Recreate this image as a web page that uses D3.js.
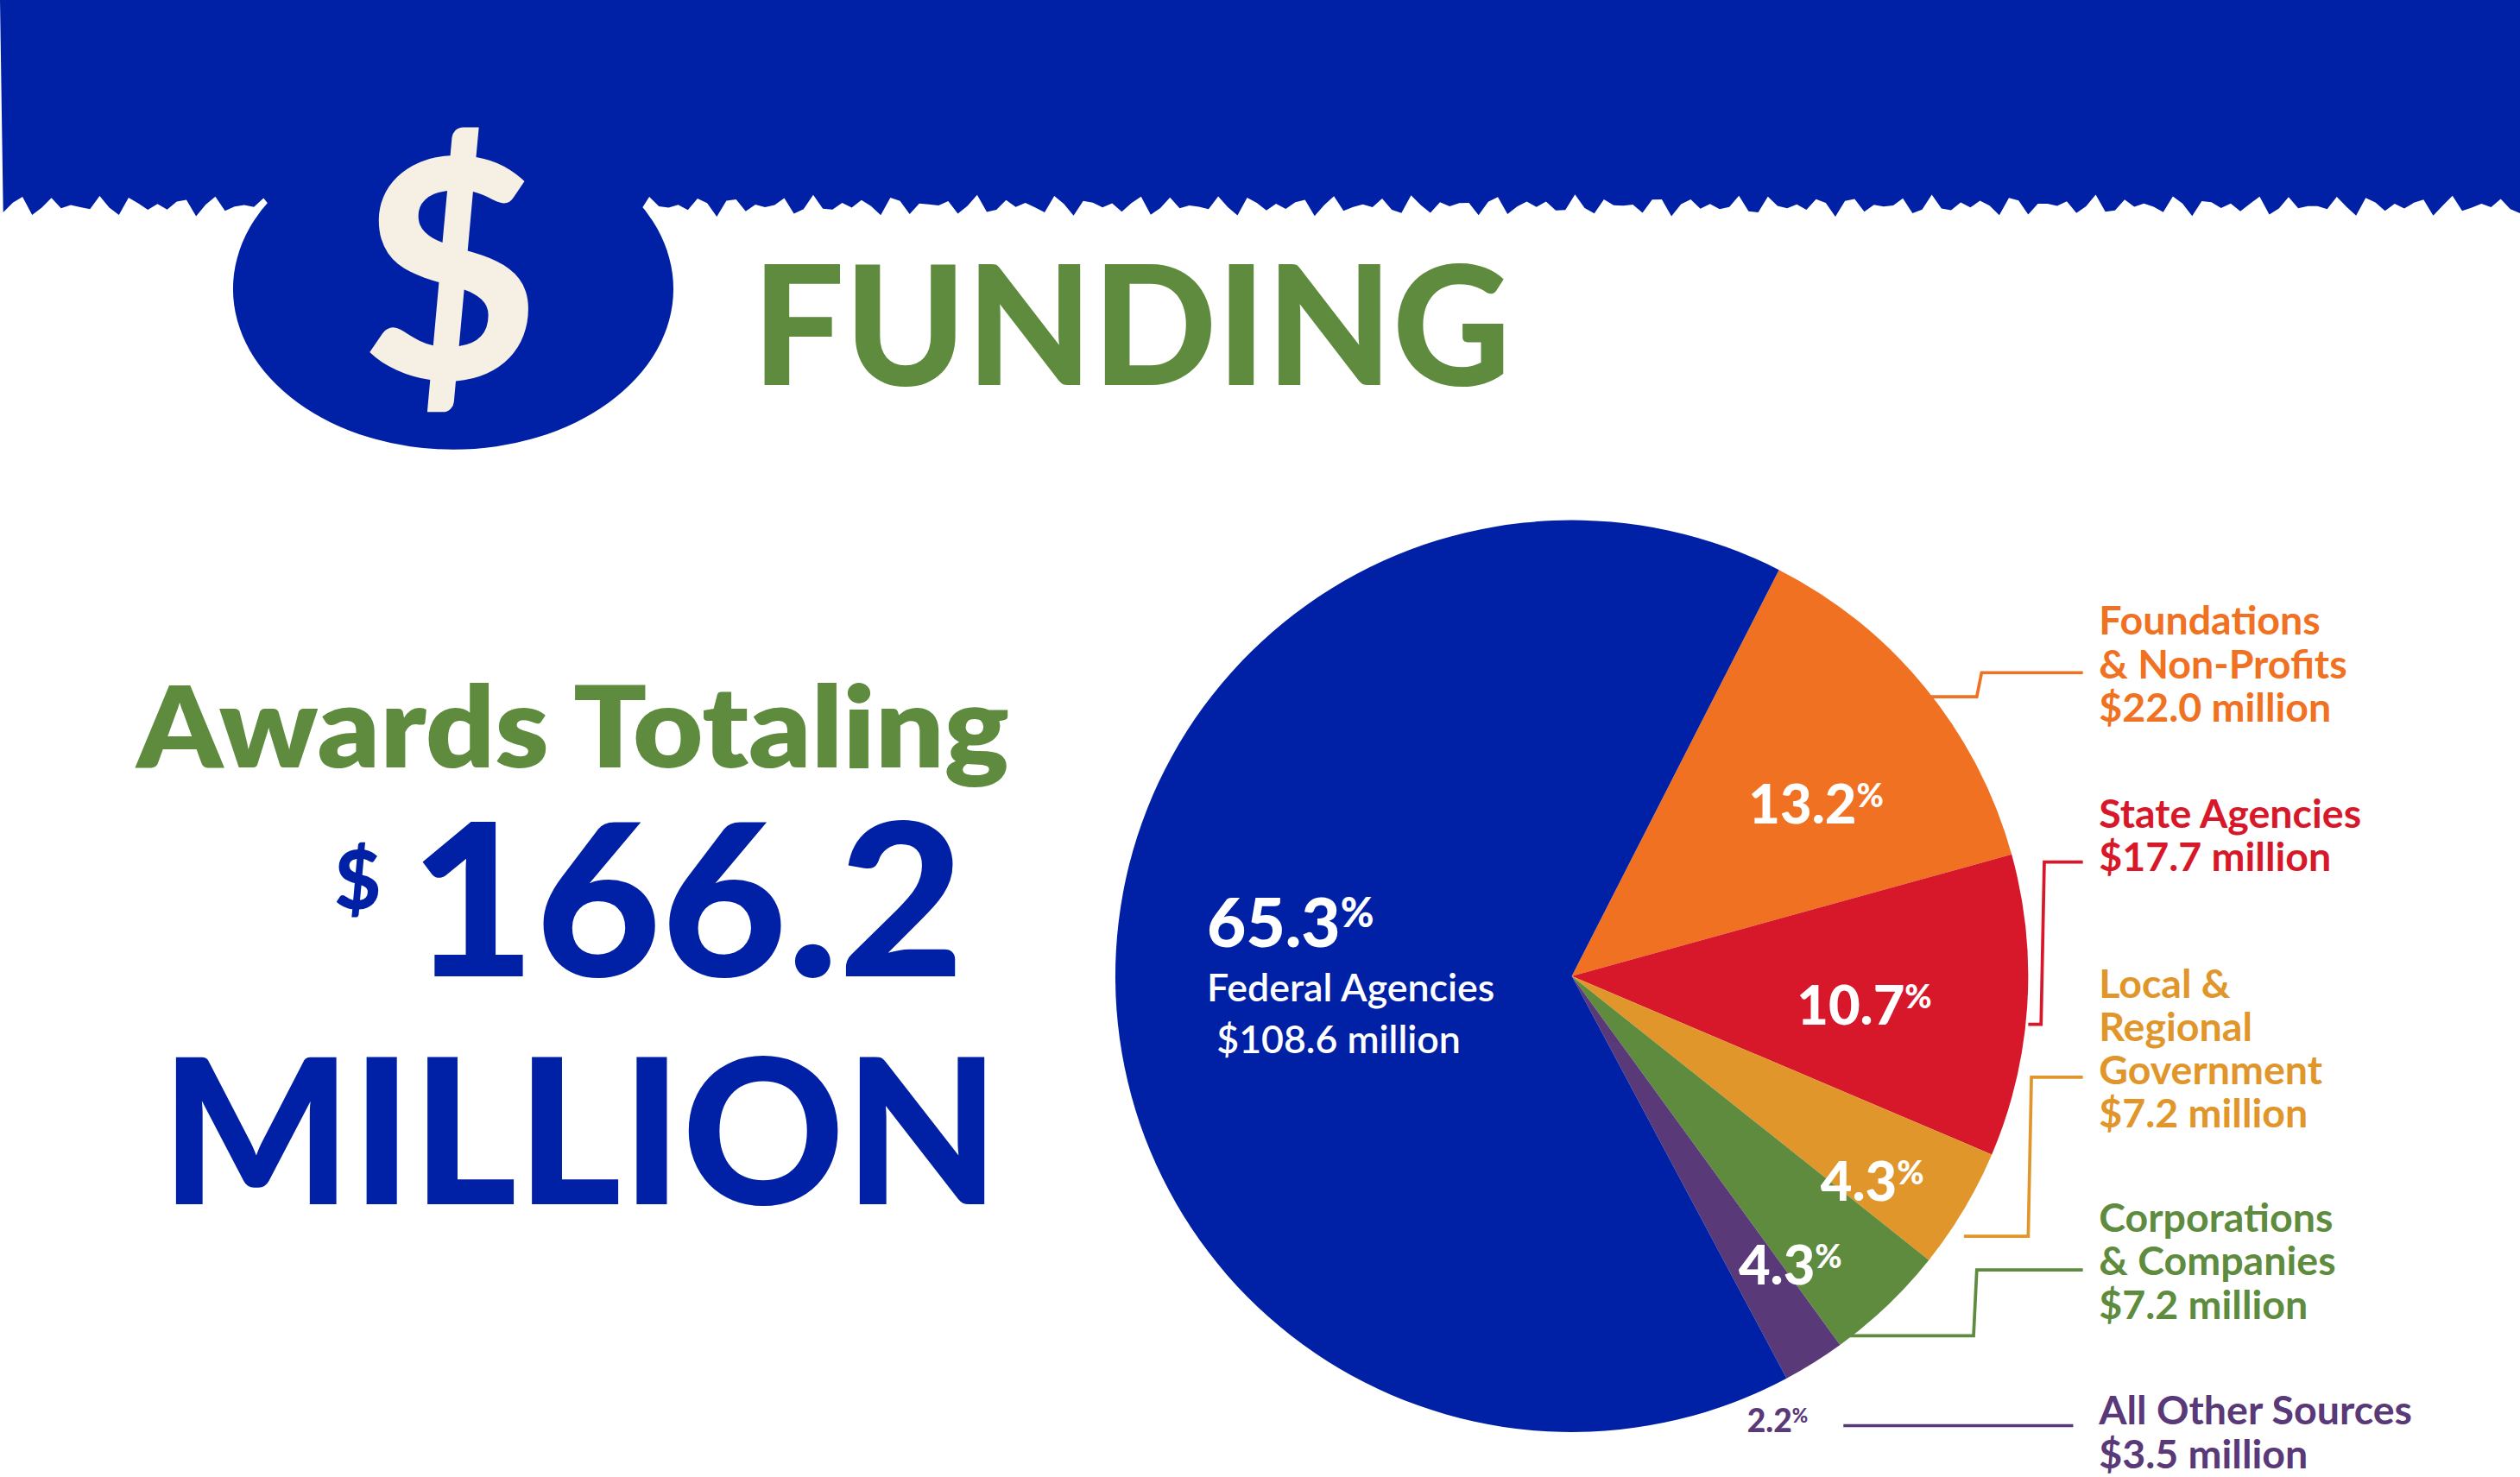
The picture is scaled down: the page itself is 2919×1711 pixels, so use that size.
<!DOCTYPE html>
<html><head><meta charset="utf-8">
<script src="https://cdn.jsdelivr.net/npm/d3@7"></script>
<style>html,body{margin:0;padding:0;background:#fff}svg{display:block}</style>
</head><body>
<script>
const categories = ["Foundations & Non-Profits","State Agencies","Local & Regional Government","Corporations & Companies","All Other Sources","Federal Agencies"];
const values = [22.0, 17.7, 7.2, 7.2, 3.5, 108.6];
const percents = [13.2, 10.7, 4.3, 4.3, 2.2, 65.3];
const colors = ["#F07122","#D7182A","#E0962A","#5E8B3E","#5A3978","#0020A6"];
const labelLines = [["Foundations","& Non-Profits","$22.0 million"],["State Agencies","$17.7 million"],["Local &","Regional","Government","$7.2 million"],["Corporations","& Companies","$7.2 million"],["All Other Sources","$3.5 million"]];
const labelTop = [389, 509, 615, 761, 881];
const inLabelPos = [[1130,513],[1160,638],[1165,748],[1114,800]];
const leaders = [
 [[1200,434],[1230,434],[1233,419],[1296,419]],
 [[1262,638],[1270,638],[1272,537],[1296,537]],
 [[1222,770],[1262,770],[1264,671],[1296,671]],
 [[1150,832],[1228,832],[1230,791],[1296,791]],
 [[1147,888],[1290,888]]
];
const font = "Lato, 'Open Sans', sans-serif";
const svg = d3.select("body").append("svg").attr("width",2919).attr("height",1711)
  .attr("viewBox","0 0 1568 920").attr("preserveAspectRatio","none");
const blue = "#0020A6", green = "#5E8B3E";

let pts = [[0,0],[1568,0],[1568,130]];
for (let x=1568; x>=0; x-=6) pts.push([x, 128 + 4*Math.sin(x*0.37) + 3*Math.sin(x*1.3)]);
svg.append("path").attr("d", d3.line()(pts)+"Z").attr("fill", blue);
svg.append("ellipse").attr("cx",282).attr("cy",180).attr("rx",137).attr("ry",100).attr("fill",blue);
svg.append("text").attr("x",280).attr("y",236).attr("text-anchor","middle").attr("font-family",font)
  .attr("font-weight",900).attr("font-size",190).attr("fill","#F6EFE3").text("$");
svg.append("text").attr("x",468).attr("y",240).attr("font-family",font).attr("font-weight",900)
  .attr("font-size",104).attr("fill",green).attr("textLength",472).attr("lengthAdjust","spacingAndGlyphs").text("FUNDING");

svg.append("text").attr("x",85).attr("y",478).attr("font-family",font).attr("font-weight",800)
  .attr("font-size",70).attr("fill",green).attr("textLength",543).attr("lengthAdjust","spacingAndGlyphs").text("Awards Totaling");
svg.append("text").attr("x",208).attr("y",566).attr("font-family",font).attr("font-weight",900)
  .attr("font-size",50).attr("fill",blue).text("$");
svg.append("text").attr("x",255).attr("y",608).attr("font-family",font).attr("font-weight",900)
  .attr("font-size",132).attr("fill",blue).attr("textLength",345).attr("lengthAdjust","spacingAndGlyphs").text("166.2");
svg.append("text").attr("x",100).attr("y",750).attr("font-family",font).attr("font-weight",900)
  .attr("font-size",126).attr("fill",blue).attr("textLength",522).attr("lengthAdjust","spacingAndGlyphs").text("MILLION");

const cx=978, cy=608, r=284;
const pie = d3.pie().sort(null).value(d=>d).startAngle(27*Math.PI/180).endAngle(387*Math.PI/180);
const arcs = pie(percents);
const arc = d3.arc().innerRadius(0).outerRadius(r);
const g = svg.append("g").attr("transform",`translate(${cx},${cy})`);
g.selectAll("path").data(arcs).join("path").attr("d",arc).attr("fill",(d,i)=>colors[i]);

function pct(x,y,v,size,fill,anchor){
  const t = svg.append("text").attr("x",x).attr("y",y).attr("font-family",font).attr("font-weight",900)
    .attr("font-size",size).attr("fill",fill).attr("text-anchor",anchor||"middle");
  t.append("tspan").text(v.toFixed(1));
  t.append("tspan").attr("font-size",size*0.6).attr("dy",-size*0.3).text("%");
}
percents.slice(0,4).forEach((p,i)=>pct(inLabelPos[i][0],inLabelPos[i][1],p,34,"#fff"));
pct(1106,892,percents[4],20,"#5A3978");
pct(751,590,percents[5],42,"#fff","start");
svg.append("text").attr("x",751).attr("y",624).attr("font-family",font).attr("font-weight",600)
  .attr("font-size",24).attr("fill","#fff").text(categories[5]);
svg.append("text").attr("x",757).attr("y",656).attr("font-family",font).attr("font-weight",600)
  .attr("font-size",24).attr("fill","#fff").text("$"+values[5].toFixed(1)+" million");

leaders.forEach((l,i)=>svg.append("path").attr("d",d3.line()(l)).attr("fill","none")
  .attr("stroke",colors[i]).attr("stroke-width",2));
labelLines.forEach((ls,i)=>{
  ls.forEach((s,j)=>svg.append("text").attr("x",1306).attr("y",labelTop[i]+j*27)
    .attr("dominant-baseline","middle").attr("font-family",font).attr("font-weight",700)
    .attr("font-size",25).attr("fill",colors[i]).text(s));
});
</script>
</body></html>
